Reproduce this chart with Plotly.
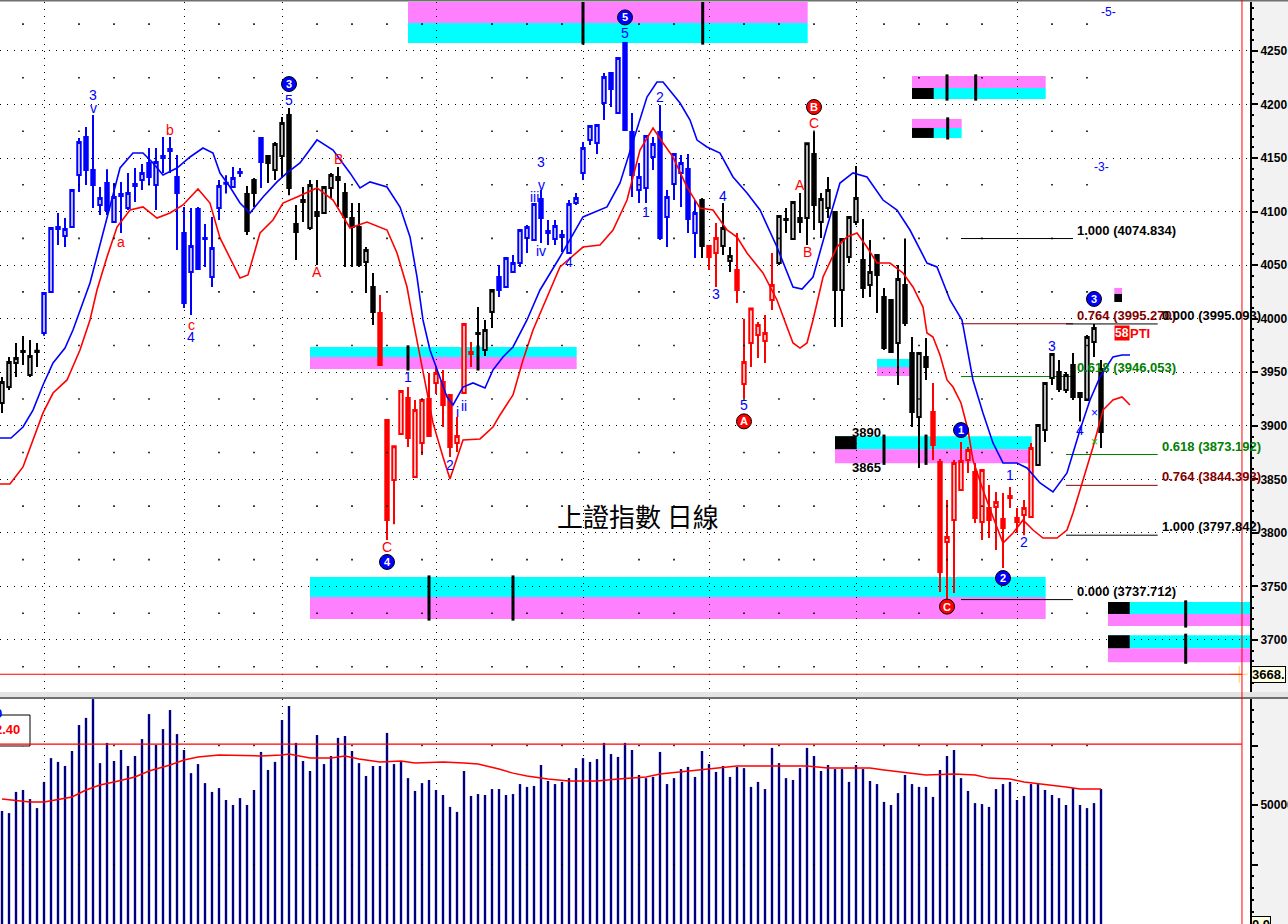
import plotly.graph_objects as go

W, H = 1288, 924

# ---------------- data ----------------
opens = [3921.3, 3936.2, 3958.6, 3969.8, 3947.4, 3970.0, 3986.6, 4025.0, 4085.6, 4077.2,
         4085.6, 4134.2, 4169.7, 4138.9, 4106.2, 4126.7, 4090.3, 4116.5, 4103.4, 4125.8,
         4129.5, 4145.4, 4124.9, 4151.9, 4158.5, 4132.3, 4080.0, 4043.5, 4102.5, 4075.4,
         4038.9, 4103.4, 4127.0, 4122.9, 4137.0, 4116.5, 4129.5, 4168.7, 4151.9, 4138.9,
         4151.9, 4190.1, 4088.4, 4110.8, 4084.7, 4099.6, 4098.7, 4122.0, 4132.3, 4117.4,
         4094.0, 4085.6, 4053.0, 4029.6, 4005.3, 3905.4, 3849.3, 3892.3, 3926.0, 3852.2,
         3884.0, 3925.0, 3940.0, 3940.9, 3928.8, 3884.0, 3930.6, 3968.9, 3986.6, 3970.8,
         4006.2, 4038.9, 4029.6, 4043.5, 4052.0, 4075.4, 4073.5, 4111.8, 4081.9, 4074.4,
         4078.2, 4061.3, 4108.0, 4136.0, 4166.8, 4164.0, 4201.4, 4229.4, 4192.0, 4257.5,
         4174.3, 4120.2, 4122.0, 4151.0, 4174.3, 4095.0, 4125.8, 4136.0, 4139.8, 4080.0,
         4110.8, 4067.9, 4061.3, 4067.9, 4053.8, 4045.4, 3939.0, 3977.4, 3984.8, 3979.2,
         4017.5, 4052.0, 4093.1, 4074.4, 4094.0, 4094.0, 4153.8, 4090.3, 4103.4, 4099.6,
         4026.8, 4057.6, 4090.3, 4054.8, 4031.5, 4059.5, 4020.2, 4017.5, 3977.4, 4031.5,
         3968.0, 3908.2, 3964.2, 3912.9, 3866.2, 3791.4, 3812.0, 3840.0, 3868.0, 3856.8,
         3810.1, 3823.2, 3824.2, 3813.0, 3834.4, 3813.9, 3816.7, 3814.8, 3863.4, 3896.1,
         3944.6, 3950.2, 3933.4, 3956.8, 3930.6, 3924.1, 3978.2, 3953.0]
highs = [3945.6, 3964.2, 3977.3, 3983.8, 3980.1, 3977.3, 4024.9, 4085.0, 4098.7, 4094.0,
         4121.0, 4168.8, 4179.0, 4190.1, 4123.0, 4139.5, 4126.7, 4127.7, 4136.0, 4140.7,
         4144.5, 4159.4, 4159.4, 4169.7, 4169.7, 4152.9, 4104.3, 4103.4, 4104.3, 4088.4,
         4095.0, 4129.5, 4134.0, 4141.6, 4140.7, 4123.9, 4131.4, 4169.0, 4152.0, 4165.0,
         4188.3, 4196.7, 4106.2, 4123.0, 4129.5, 4129.5, 4124.0, 4136.0, 4141.6, 4126.7,
         4108.0, 4108.0, 4067.0, 4042.7, 4022.1, 3906.0, 3881.5, 3933.0, 3936.2, 3924.1,
         3924.5, 3949.3, 3954.9, 3952.1, 3929.0, 3908.3, 3995.0, 3978.2, 4010.9, 3998.8,
         4027.0, 4050.1, 4057.6, 4059.5, 4083.0, 4087.5, 4107.5, 4120.2, 4092.2, 4092.2,
         4082.8, 4110.8, 4117.4, 4165.0, 4180.2, 4181.0, 4229.4, 4229.8, 4244.0, 4258.0,
         4192.0, 4145.4, 4171.0, 4169.7, 4199.5, 4120.2, 4154.0, 4152.9, 4153.8, 4110.8,
         4112.7, 4068.0, 4089.4, 4108.0, 4067.0, 4080.0, 4000.0, 4010.0, 3996.9, 4003.5,
         4061.3, 4096.0, 4103.4, 4109.0, 4117.4, 4164.0, 4174.3, 4117.4, 4132.3, 4100.0,
         4075.4, 4095.2, 4142.6, 4093.1, 4073.5, 4060.0, 4028.6, 4018.0, 4050.1, 4074.8,
         3982.9, 3968.0, 3982.0, 3940.0, 3869.0, 3830.7, 3868.0, 3884.8, 3880.2, 3865.2,
         3859.0, 3844.6, 3838.2, 3837.2, 3842.8, 3823.2, 3830.7, 3883.9, 3901.0, 3940.9,
         3968.0, 3961.4, 3950.2, 3968.0, 3931.5, 3984.8, 3995.1, 3961.4]
lows = [3911.9, 3933.4, 3945.6, 3956.8, 3945.6, 3954.9, 3984.0, 4024.0, 4068.8, 4067.0,
        4085.0, 4118.3, 4124.9, 4103.4, 4096.8, 4096.8, 4089.4, 4080.0, 4101.5, 4109.0,
        4120.2, 4124.9, 4101.5, 4136.0, 4136.0, 4064.2, 4010.0, 4003.5, 4045.4, 4048.3,
        4029.6, 4092.2, 4117.0, 4122.0, 4132.3, 4078.2, 4104.3, 4122.0, 4126.7, 4129.5,
        4132.3, 4115.3, 4054.8, 4090.3, 4082.8, 4050.1, 4098.0, 4112.7, 4104.3, 4048.3,
        4048.3, 4048.3, 4024.0, 3994.1, 3956.0, 3793.4, 3808.0, 3892.0, 3880.2, 3852.0,
        3872.7, 3889.6, 3929.7, 3898.9, 3870.8, 3875.5, 3930.0, 3954.9, 3961.4, 3965.2,
        3991.3, 4020.2, 4029.0, 4042.6, 4048.3, 4061.3, 4073.0, 4070.7, 4068.8, 4068.8,
        4062.3, 4061.0, 4106.2, 4129.5, 4162.1, 4153.8, 4185.5, 4197.6, 4191.5, 4176.0,
        4113.7, 4108.0, 4108.0, 4138.9, 4073.5, 4067.0, 4110.8, 4104.3, 4080.0, 4056.7,
        4056.7, 4045.4, 4029.6, 4059.5, 4043.5, 4014.6, 3925.6, 3954.9, 3963.3, 3958.6,
        4008.1, 4050.1, 4080.0, 4073.5, 4080.0, 4068.8, 4082.8, 4075.4, 4094.0, 3992.2,
        3992.2, 4052.0, 4087.5, 4019.3, 4020.2, 4005.3, 3970.8, 3968.0, 3938.1, 3993.2,
        3898.9, 3860.6, 3942.8, 3868.1, 3744.8, 3737.7, 3743.9, 3840.0, 3855.9, 3809.2,
        3793.4, 3795.3, 3784.0, 3767.2, 3823.2, 3799.8, 3797.8, 3813.9, 3863.0, 3884.9,
        3938.1, 3931.5, 3930.6, 3924.1, 3904.0, 3924.0, 3964.2, 3879.2]
closes = [3940.9, 3959.6, 3963.3, 3968.9, 3965.2, 3969.0, 4024.0, 4084.7, 4083.8, 4083.8,
          4120.2, 4165.0, 4138.9, 4124.9, 4112.7, 4101.5, 4113.7, 4114.6, 4117.4, 4124.0,
          4136.0, 4132.3, 4146.3, 4150.0, 4156.6, 4117.4, 4014.7, 4067.9, 4046.3, 4074.4,
          4066.0, 4124.0, 4126.0, 4131.4, 4136.0, 4081.9, 4117.4, 4146.3, 4145.4, 4163.2,
          4182.7, 4122.0, 4080.9, 4109.0, 4124.9, 4095.8, 4122.9, 4134.2, 4129.5, 4095.0,
          4085.6, 4050.1, 4064.2, 4006.2, 3956.8, 3812.0, 3881.0, 3932.5, 3888.6, 3914.7,
          3924.1, 3890.5, 3949.3, 3919.4, 3880.2, 3890.5, 3995.0, 3967.0, 3985.7, 3989.4,
          4026.8, 4026.8, 4056.7, 4052.0, 4082.8, 4085.6, 4107.1, 4094.0, 4080.0, 4086.6,
          4076.3, 4107.1, 4112.7, 4159.4, 4179.9, 4180.8, 4225.7, 4214.5, 4243.4, 4176.2,
          4134.2, 4132.3, 4170.6, 4163.2, 4075.4, 4113.7, 4153.8, 4145.4, 4093.1, 4098.7,
          4067.9, 4057.6, 4075.4, 4084.7, 4058.5, 4026.8, 3959.6, 4009.5, 3994.1, 3986.6,
          4031.5, 4095.9, 4092.2, 4109.0, 4090.3, 4163.8, 4106.2, 4111.8, 4120.2, 4026.8,
          4074.4, 4095.0, 4112.7, 4028.6, 4043.6, 4040.8, 3972.6, 3968.9, 4037.1, 3996.0,
          3912.9, 3968.0, 3954.9, 3882.0, 3763.5, 3796.1, 3865.2, 3867.1, 3877.4, 3813.9,
          3858.7, 3812.0, 3828.8, 3804.6, 3832.5, 3810.1, 3823.2, 3879.2, 3900.8, 3940.0,
          3967.0, 3934.4, 3947.4, 3926.9, 3926.9, 3983.0, 3991.3, 3894.2]
volumes = [47500, 46600, 55500, 56300, 52500, 48700, 59700, 69700, 68100, 66400,
           72700, 83600, 86600, 94500, 67600, 76100, 68500, 73100, 66400, 70600,
           77700, 88200, 75200, 81900, 89900, 79800, 73100, 63400, 67200, 59200,
           55500, 57100, 52100, 50000, 52900, 50000, 56300, 72300, 64700, 68100,
           85700, 91600, 76100, 68500, 64300, 79400, 67200, 70600, 78200, 79000,
           72700, 67600, 62200, 66400, 66400, 80300, 67200, 68500, 61300, 55900,
           59200, 60500, 56300, 54200, 49200, 47100, 64300, 53800, 54600, 54200,
           56700, 56700, 54200, 54600, 58800, 57600, 58000, 66800, 60100, 58800,
           59700, 61300, 65500, 69700, 68100, 69300, 76100, 71400, 70200, 76100,
           73100, 62600, 61300, 61800, 72300, 58800, 61300, 65100, 66000, 61800,
           72700, 67200, 63900, 66400, 61800, 66000, 65500, 57600, 59700, 56700,
           74000, 67600, 61300, 60500, 65500, 74000, 70600, 64300, 66800, 65100,
           65100, 59700, 66800, 65100, 60100, 58800, 51300, 50000, 55000, 62600,
           58800, 57600, 57600, 53400, 64700, 70600, 73100, 61300, 55900, 50800,
           50400, 49200, 56700, 58800, 59700, 52100, 53800, 58800, 58800, 56300,
           54200, 52900, 50000, 57100, 50000, 48700, 50800, 56700]

# wave-colour segments (first bar, last bar, colour key)
color_segments = [(0, 5, 'k'), (6, 34, 'b'), (35, 36, 'k'), (37, 37, 'b'), (38, 53, 'k'),
                  (54, 67, 'r'), (68, 70, 'k'), (71, 99, 'b'), (100, 100, 'k'), (101, 102, 'r'),
                  (103, 104, 'k'), (105, 110, 'r'), (111, 132, 'k'), (133, 147, 'r'), (148, 157, 'k')]

# moving averages (bar index, value)
ma_fast_x = [-0.29, 1.29, 3.0, 4.43, 5.86, 7.29, 9.0, 10.14, 12.57, 14.43, 15.86, 16.86, 18.71, 20.14,
             21.57, 23.0, 25.0, 26.86, 28.71, 30.14, 31.14, 32.57, 34.0, 35.43, 37.29, 39.29, 40.71,
             42.57, 45.0, 47.29, 49.71, 51.14, 52.57, 55.0, 56.86, 58.29, 59.29, 60.14, 61.14, 62.14,
             63.57, 64.43, 65.86, 67.29, 69.0, 70.14, 71.57, 73.0, 75.0, 76.86, 79.71, 83.0, 84.43,
             86.43, 88.29, 90.14, 92.14, 93.57, 94.43, 96.86, 98.29, 99.29, 100.71, 102.57, 104.43,
             106.43, 108.29, 110.71, 113.0, 114.29, 115.86, 117.86, 119.71, 121.57, 123.57, 125.86,
             127.86, 129.71, 132.14, 133.57, 135.43, 137.14, 137.86, 138.71, 140.14, 141.57, 143.0,
             145.0, 146.43, 148.29, 150.14, 152.14, 154.0, 155.43, 156.86, 158.71, 160.0, 161.14]
ma_fast_y = [3888.6, 3888.6, 3898.9, 3914.7, 3938.1, 3958.6, 3972.6, 3989.4, 4033.3, 4080.0, 4113.6,
             4140.7, 4154.7, 4154.7, 4145.4, 4134.2, 4140.7, 4151.0, 4159.4, 4154.7, 4136.0, 4123.0,
             4108.0, 4098.7, 4113.6, 4127.7, 4136.1, 4145.4, 4166.9, 4157.5, 4136.1, 4122.1, 4127.7,
             4123.0, 4104.3, 4076.3, 4038.9, 3998.8, 3970.8, 3952.1, 3926.9, 3919.4, 3936.2, 3940.0,
             3935.3, 3952.1, 3964.2, 3973.6, 3998.8, 4026.8, 4057.6, 4095.0, 4098.7, 4104.3, 4126.7,
             4165.0, 4207.0, 4221.0, 4221.0, 4201.4, 4185.5, 4166.8, 4160.3, 4154.7, 4132.3, 4117.4,
             4101.5, 4066.9, 4029.6, 4027.7, 4038.9, 4085.6, 4126.7, 4136.1, 4132.3, 4110.8, 4101.5,
             4082.8, 4052.0, 4048.3, 4017.5, 3998.8, 3973.6, 3942.8, 3912.0, 3884.0, 3865.3, 3865.3,
             3860.6, 3846.6, 3838.2, 3856.0, 3896.1, 3924.1, 3945.6, 3964.3, 3966.1, 3966.1]
ma_slow_x = [-0.29, 1.14, 3.0, 4.43, 5.86, 7.29, 9.29, 11.14, 12.57, 13.57, 15.0, 16.43, 18.29, 20.14,
             22.14, 24.0, 25.86, 28.0, 29.71, 31.14, 33.0, 34.0, 35.14, 36.86, 38.71, 40.14, 42.14,
             45.0, 47.29, 49.71, 52.14, 55.0, 56.43, 57.86, 58.71, 60.14, 61.57, 63.0, 64.0, 65.86,
             68.29, 70.14, 71.14, 73.0, 74.43, 75.86, 79.71, 83.0, 85.43, 87.29, 89.29, 91.14, 93.0,
             94.43, 95.86, 97.86, 99.71, 101.57, 103.57, 105.0, 106.43, 108.71, 110.71, 112.14, 113.0,
             114.0, 115.0, 115.86, 117.29, 119.29, 120.71, 122.14, 123.57, 125.0, 126.86, 128.71,
             130.14, 131.57, 132.14, 133.0, 134.0, 135.0, 135.86, 137.0, 138.0, 138.71, 140.14, 141.57,
             143.0, 144.43, 145.86, 147.29, 148.71, 150.71, 152.14, 153.0, 154.43, 155.86, 157.29,
             158.71, 160.0, 161.14]
ma_slow_y = [3845.7, 3845.7, 3861.6, 3886.8, 3912.0, 3930.6, 3942.8, 3970.8, 3998.8, 4026.8, 4057.6,
             4085.6, 4101.5, 4104.3, 4094.0, 4098.7, 4106.2, 4121.1, 4108.0, 4075.4, 4052.0, 4038.0,
             4040.8, 4080.0, 4092.2, 4108.0, 4113.6, 4122.1, 4110.8, 4084.7, 4090.3, 4082.8, 4061.3,
             4029.6, 3998.8, 3952.1, 3902.7, 3870.8, 3850.3, 3886.7, 3887.7, 3898.9, 3910.1, 3928.8,
             3961.4, 3989.5, 4048.3, 4066.9, 4068.8, 4082.8, 4110.8, 4157.5, 4178.0, 4164.0, 4150.9,
             4122.9, 4103.3, 4101.5, 4082.8, 4076.3, 4061.3, 4042.7, 4017.5, 3992.2, 3977.3, 3972.6,
             3977.3, 3998.8, 4038.9, 4066.9, 4076.3, 4080.0, 4066.9, 4052.0, 4052.0, 4042.7, 4029.6,
             4010.9, 3986.6, 3982.9, 3966.1, 3942.8, 3936.2, 3921.3, 3896.1, 3868.0, 3840.0, 3814.8,
             3790.5, 3799.9, 3812.0, 3802.7, 3795.2, 3795.2, 3802.7, 3818.5, 3849.3, 3880.2, 3914.7,
             3924.1, 3926.9, 3919.4]
vol_ma_x = [0, 4, 6, 10, 12, 14, 16, 19, 21, 24, 26, 28, 31, 37, 40, 41, 44, 47, 49, 51, 54, 57, 59,
            63, 66, 68, 71, 73, 75, 78, 81, 85, 88, 92, 94, 97, 100, 103, 105, 110, 115, 118, 124,
            126, 128, 130, 132, 136, 139, 141, 144, 146, 149, 152, 154, 157]
vol_ma_y = [52500, 51300, 51300, 53400, 56300, 58400, 59700, 61800, 64300, 66800, 68900, 70200, 71000,
            70600, 71000, 71400, 69700, 69700, 70600, 69300, 68100, 68500, 67600, 68100, 67600, 67200,
            65100, 63400, 62200, 60900, 60100, 60100, 60900, 61800, 63000, 63900, 65100, 66000, 66400,
            66400, 66400, 65500, 65500, 64700, 63900, 63400, 62600, 63000, 62600, 61300, 60900, 59700,
            58800, 57600, 56700, 56700]

month_starts = [6, 26, 40, 62, 83, 101, 122, 145]
week_marks = [3, 11, 16, 21, 31, 36, 45, 50, 55, 60, 70, 75, 80, 91, 96, 106, 111, 116, 126, 131,
              135, 140, 150, 155]
price_minor_levels = [3675, 3725, 3775, 3825, 3875, 3925, 3975, 4025, 4075, 4125, 4175, 4225, 4275]

# Fibonacci studies: (ratio, price, colour key)
fib_set_a = [(1.000, 4074.834, 'k'), (0.764, 3995.270, 'd'), (0.618, 3946.053, 'g'), (0.000, 3737.712, 'k')]
fib_set_b = [(0.000, 3995.093, 'k'), (0.618, 3873.192, 'g'), (0.764, 3844.393, 'd'), (1.000, 3797.842, 'k')]
fib_span_a = (137, 153)
fib_span_b = (152, 165.1)

# time/price bands: x-range (bars), cyan price range, pink price range, black block, tick bars
bands = [
    dict(x=(58, 115.1), cyan=(4257.4, 4276.1), pink=(4276.1, 4300.0), block=None, ticks=[83, 100.1]),
    dict(x=(130, 149.1), cyan=(4205.1, 4215.4), pink=(4215.4, 4226.6), block=(130, 133.1), ticks=[135, 139.1]),
    dict(x=(130, 137.1), cyan=(4168.8, 4178.1), pink=(4178.1, 4186.5), block=(130, 133.1), ticks=[135.1]),
    dict(x=(44, 82.1), cyan=(3964.3, 3973.6), pink=(3953.1, 3964.3), block=None, ticks=[58, 68]),
    dict(x=(119, 147.1), cyan=(3878.1, 3890.3), pink=(3865.0, 3878.1), block=(119, 122.1), ticks=[126, 132]),
    dict(x=(125, 130.1), cyan=(3955.0, 3962.4), pink=(3946.5, 3955.0), block=None, ticks=[]),
    dict(x=(44, 149.1), cyan=(3740.1, 3758.8), pink=(3719.6, 3740.1), block=None, ticks=[61, 73]),
    dict(x=(158, 178.3), cyan=(3724.3, 3735.5), pink=(3713.1, 3724.3), block=(158, 161.1), ticks=[169.1]),
    dict(x=(158, 178.3), cyan=(3692.3, 3704.4), pink=(3679.3, 3692.3), block=(158, 161.1), ticks=[169.1]),
]

# wave labels: (bar, text, colour key, 'H'/'L', pixel offset of centre, circled)
wave_labels = [
    (13, "v", 'b', 'H', 7, False), (13, "3", 'b', 'H', 20, False),
    (17, "a", 'r', 'L', 9, False), (24, "b", 'r', 'H', 7, False),
    (27, "c", 'r', 'L', 10, False), (27, "4", 'b', 'L', 22, False),
    (41, "5", 'b', 'H', 8, False), (41, "3", 'b', 'H', 24, True),
    (45, "A", 'r', 'L', 7, False), (48, "B", 'r', 'H', 8, False),
    (58, "1", 'b', 'H', 10, False), (55, "C", 'r', 'L', 7, False), (55, "4", 'b', 'L', 22, True),
    (64, "2", 'b', 'L', 8, False), (65, "i", 'b', 'H', 5, False), (66, "ii", 'b', 'L', 12, False),
    (76, "iii", 'b', 'H', 7, False), (77, "v", 'b', 'H', 5, False), (77, "3", 'b', 'H', 28, False),
    (77, "iv", 'b', 'L', 8, False), (81, "4", 'b', 'L', 9, False),
    (89, "5", 'b', 'H', 9, False), (89, "5", 'b', 'H', 25, True),
    (92, "1", 'b', 'L', 9, False), (94, "2", 'b', 'H', 8, False),
    (102, "3", 'b', 'L', 7, False), (103, "4", 'b', 'H', 7, False),
    (106, "5", 'b', 'L', 7, False), (106, "A", 'r', 'L', 23, True),
    (114, "A", 'r', 'H', 8, False), (115, "B", 'r', 'L', 7, False),
    (116, "C", 'r', 'H', 9, False), (116, "B", 'r', 'H', 25, True),
    (137, "1", 'b', 'H', 12, True), (135, "C", 'r', 'L', 7, True),
    (144, "1", 'b', 'H', 12, False), (143, "2", 'b', 'L', 10, True),
    (146, "2", 'b', 'L', 7, False), (150, "3", 'b', 'H', 7, False),
    (154, "4", 'b', 'L', 8, False), (156, "3", 'b', 'H', 25, True),
]

cursor_price = 3668
cursor_bar = 177.14
vol_cursor = 75600

# ---------------- styling ----------------
COL = {'k': '#000000', 'b': '#0000FF', 'r': '#FF0000', 'g': '#008000', 'd': '#800000'}
CYAN, PINK = '#00FFFF', '#FF80FF'
FONT = "Liberation Sans, Arial, sans-serif"
X_RANGE = [-2 / 7, 1248 / 7]
Y_RANGE = [3650.5, 4295.7]
V_RANGE = [0, 94538]
XD = 1250 / W


def py(p):
    return 1 - p / H


fig = go.Figure()

# candles, one trace per wave colour
for key in ['k', 'b', 'r']:
    idx = [i for (a, b, c) in color_segments if c == key for i in range(a, b + 1)]
    fig.add_trace(go.Candlestick(
        x=idx, open=[opens[i] for i in idx], high=[highs[i] for i in idx],
        low=[lows[i] for i in idx], close=[closes[i] for i in idx],
        increasing=dict(line=dict(color=COL[key], width=2), fillcolor='white'),
        decreasing=dict(line=dict(color=COL[key], width=2), fillcolor=COL[key]),
        whiskerwidth=0, hoverinfo='skip', showlegend=False, xaxis='x', yaxis='y'))

fig.add_trace(go.Scatter(x=ma_fast_x, y=ma_fast_y, mode='lines', line=dict(color='#0000FF', width=1.6),
                         hoverinfo='skip', showlegend=False))
fig.add_trace(go.Scatter(x=ma_slow_x, y=ma_slow_y, mode='lines', line=dict(color='#FF0000', width=1.6),
                         hoverinfo='skip', showlegend=False))

# sparse grid dots (weekly x price minor levels)
gx = [w for lv in price_minor_levels for w in week_marks]
gy = [lv for lv in price_minor_levels for w in week_marks]
fig.add_trace(go.Scatter(x=gx, y=gy, mode='markers', marker=dict(symbol='square', size=1.6, color='black'),
                         hoverinfo='skip', showlegend=False))

# volume
fig.add_trace(go.Bar(x=list(range(len(volumes))), y=volumes, width=0.34, marker=dict(color='#000080', line=dict(width=0)),
                     hoverinfo='skip', showlegend=False, xaxis='x2', yaxis='y2'))
fig.add_trace(go.Scatter(x=vol_ma_x, y=vol_ma_y, mode='lines', line=dict(color='#FF0000', width=1.5),
                         hoverinfo='skip', showlegend=False, xaxis='x2', yaxis='y2'))
vgx = [w for lv in (25000, 75000) for w in week_marks]
vgy = [lv for lv in (25000, 75000) for w in week_marks]
fig.add_trace(go.Scatter(x=vgx, y=vgy, mode='markers', marker=dict(symbol='square', size=1.6, color='black'),
                         hoverinfo='skip', showlegend=False, xaxis='x2', yaxis='y2'))

# cursor cross
fig.add_trace(go.Scatter(x=[cursor_bar - 0.4], y=[cursor_price], mode='markers',
                         marker=dict(symbol='cross-thin-open', size=12, line=dict(color='black', width=1)),
                         hoverinfo='skip', showlegend=False))

shapes = []
annotations = []

# bands
for bd in bands:
    x0, x1 = bd['x']
    shapes.append(dict(type='rect', xref='x', yref='y', x0=x0, x1=x1, y0=bd['cyan'][0], y1=bd['cyan'][1],
                       fillcolor=CYAN, line=dict(width=0), layer='below'))
    shapes.append(dict(type='rect', xref='x', yref='y', x0=x0, x1=x1, y0=bd['pink'][0], y1=bd['pink'][1],
                       fillcolor=PINK, line=dict(width=0), layer='below'))
    if bd['block']:
        shapes.append(dict(type='rect', xref='x', yref='y', x0=bd['block'][0], x1=bd['block'][1],
                           y0=bd['cyan'][0], y1=bd['cyan'][1], fillcolor='black', line=dict(width=0), layer='below'))
    lo = min(bd['cyan'][0], bd['pink'][0]) - 1.5
    hi = max(bd['cyan'][1], bd['pink'][1]) + 1.5
    for t in bd['ticks']:
        shapes.append(dict(type='line', xref='x', yref='y', x0=t, x1=t, y0=lo, y1=hi,
                           line=dict(color='black', width=3), layer='below'))

# little pink/black marker near last bar
shapes.append(dict(type='rect', xref='x', yref='y', x0=158.9, x1=160.0, y0=4023.1, y1=4028.7,
                   fillcolor=PINK, line=dict(width=0), layer='below'))
shapes.append(dict(type='rect', xref='x', yref='y', x0=158.9, x1=160.0, y0=4015.6, y1=4023.1,
                   fillcolor='black', line=dict(width=0), layer='below'))

# fibonacci lines and labels
for (fset, span) in ((fib_set_a, fib_span_a), (fib_set_b, fib_span_b)):
    for ratio, price, ck in fset:
        shapes.append(dict(type='line', xref='x', yref='y', x0=span[0], x1=span[1], y0=price, y1=price,
                           line=dict(color=COL[ck], width=1), layer='below'))
        annotations.append(dict(x=span[1] + 0.3, y=price, xref='x', yref='y', text=f"{ratio:.3f} ({price:.3f})",
                                showarrow=False, xanchor='left', yanchor='bottom', yshift=-1,
                                font=dict(family=FONT, size=13, color=COL[ck], weight='bold')))

# wave labels
for (i, txt, ck, where, dy, circ) in wave_labels:
    base = highs[i] if where == 'H' else lows[i]
    sh = dy if where == 'H' else -dy
    if circ:
        shapes.append(dict(type='circle', xref='x', yref='y', xsizemode='pixel', ysizemode='pixel',
                           xanchor=i, yanchor=base, x0=-7.5, x1=7.5, y0=sh - 7.5, y1=sh + 7.5,
                           fillcolor=COL[ck], line=dict(color='black', width=1), layer='above'))
        annotations.append(dict(x=i, y=base, xref='x', yref='y', text=txt, showarrow=False, yshift=sh,
                                xanchor='center', yanchor='middle',
                                font=dict(family=FONT, size=11, color='white', weight='bold')))
    else:
        annotations.append(dict(x=i, y=base, xref='x', yref='y', text=txt, showarrow=False, yshift=sh,
                                xanchor='center', yanchor='middle',
                                font=dict(family=FONT, size=14, color=COL[ck])))

# free texts
annotations += [
    dict(x=158, y=4286.4, xref='x', yref='y', text='-5-', showarrow=False,
         font=dict(family=FONT, size=12, color='#0000FF')),
    dict(x=157.1, y=4141.7, xref='x', yref='y', text='-3-', showarrow=False,
         font=dict(family=FONT, size=12, color='#0000FF')),
    dict(x=156, y=3911.6, xref='x', yref='y', text='×', showarrow=False,
         font=dict(family=FONT, size=12, color='#0000FF')),
    dict(x=156, y=3884.8, xref='x', yref='y', text='×', showarrow=False,
         font=dict(family=FONT, size=12, color='#00C000')),
    dict(x=160, y=3986.6, xref='x', yref='y', text='58', showarrow=False, bgcolor='#FF0000', borderpad=0,
         font=dict(family=FONT, size=12, color='white', weight='bold')),
    dict(x=160.9, y=3986.6, xref='x', yref='y', text='PTI', showarrow=False, xanchor='left',
         font=dict(family=FONT, size=13, color='#FF0000', weight='bold')),
    dict(x=125.9, y=3890, xref='x', yref='y', text='3890', showarrow=False, xanchor='right', yanchor='bottom',
         yshift=-5, font=dict(family=FONT, size=13, color='black', weight='bold')),
    dict(x=125.9, y=3865, xref='x', yref='y', text='3865', showarrow=False, xanchor='right', yanchor='top',
         yshift=5, font=dict(family=FONT, size=13, color='black', weight='bold')),
    dict(x=638 / W, y=py(515), xref='paper', yref='paper', text='上證指數 日線', showarrow=False,
         font=dict(family="Noto Sans CJK TC, sans-serif", size=26, color='black')),
    dict(x=1251 / W, y=cursor_price, xref='paper', yref='y', text='3668.', showarrow=False, xanchor='left',
         yanchor='middle', bgcolor='#FFFFE1', bordercolor='black', borderwidth=1, borderpad=0,
         font=dict(family=FONT, size=13, color='black', weight='bold')),
    dict(x=1251 / W, y=py(916), xref='paper', yref='paper', text='0.0', showarrow=False, xanchor='left',
         yanchor='top', bgcolor='#FFFFE1', bordercolor='black', borderwidth=1, borderpad=0,
         font=dict(family=FONT, size=13, color='black', weight='bold')),
    dict(x=4 / W, y=py(723), xref='paper', yref='paper', text='0', showarrow=False, xanchor='right',
         font=dict(family=FONT, size=13, color='#0000FF', weight='bold')),
    dict(x=22 / W, y=py(739), xref='paper', yref='paper', text='2.40', showarrow=False, xanchor='right',
         font=dict(family=FONT, size=13, color='#FF0000', weight='bold')),
]

# frame pieces: right axis panel, separators, legend box, cursor lines
shapes += [
    dict(type='rect', xref='paper', yref='paper', x0=XD, x1=1.0, y0=0, y1=1, fillcolor='#F2F2F2',
         line=dict(width=0), layer='below'),
    dict(type='rect', xref='paper', yref='paper', x0=0, x1=1, y0=py(697), y1=py(692), fillcolor='#E4E4E4',
         line=dict(width=0), layer='above'),
    dict(type='rect', xref='paper', yref='paper', x0=0, x1=1, y0=py(699), y1=py(697), fillcolor='#707070',
         line=dict(width=0), layer='above'),
    dict(type='rect', xref='paper', yref='paper', x0=0, x1=1, y0=py(1.5), y1=1, fillcolor='#707070',
         line=dict(width=0), layer='above'),
    dict(type='rect', xref='paper', yref='paper', x0=-0.01, x1=30 / W, y0=py(746), y1=py(715),
         fillcolor='white', line=dict(color='black', width=1), layer='above'),
    dict(type='line', xref='x', yref='paper', x0=cursor_bar, x1=cursor_bar, y0=0, y1=1,
         line=dict(color='#FF0000', width=1), layer='above'),
    dict(type='line', xref='x', yref='y', x0=X_RANGE[0], x1=cursor_bar, y0=cursor_price, y1=cursor_price,
         line=dict(color='#FF0000', width=1), layer='above'),
    dict(type='line', xref='x2', yref='y2', x0=X_RANGE[0], x1=cursor_bar, y0=vol_cursor, y1=vol_cursor,
         line=dict(color='#FF0000', width=1.2), layer='above'),
]

axis_font = dict(family=FONT, size=12, color='black', weight='bold')
xcommon = dict(range=X_RANGE, showticklabels=False, ticks='', tickmode='array', tickvals=month_starts,
               showgrid=True, gridcolor='black', gridwidth=1, griddash='1px,6px', zeroline=False,
               showline=False, domain=[0, XD], rangeslider=dict(visible=False), fixedrange=True,
               automargin=False)

fig.update_layout(
    width=W, height=H, margin=dict(l=0, r=0, t=0, b=0, pad=0), autosize=False,
    paper_bgcolor='white', plot_bgcolor='white', hovermode=False, showlegend=False,
    xaxis=dict(anchor='y', **xcommon),
    xaxis2=dict(anchor='y2', matches='x', **xcommon),
    yaxis=dict(domain=[py(693), py(2)], range=Y_RANGE, side='right', anchor='x', automargin=False,
               tickmode='linear', tick0=3700, dtick=50, ticks='outside', ticklen=6, tickwidth=1.5,
               tickcolor='black', tickfont=axis_font, showline=True, linecolor='black', linewidth=2,
               showgrid=True, gridcolor='black', gridwidth=1, griddash='1px,6px', zeroline=False,
               minor=dict(ticks='outside', ticklen=2, dtick=10, tickcolor='black', showgrid=False),
               fixedrange=True),
    yaxis2=dict(domain=[0, py(699)], range=V_RANGE, side='right', anchor='x2', automargin=False,
                tickmode='array', tickvals=[25000, 50000, 75000], ticktext=['', '50000', ''],
                ticks='outside', ticklen=6, tickwidth=1.5, tickcolor='black', tickfont=axis_font,
                showline=True, linecolor='black', linewidth=2, showgrid=False, zeroline=False,
                minor=dict(ticks='outside', ticklen=2, tickmode='linear', tick0=0, dtick=5000,
                           tickcolor='black', showgrid=False),
                fixedrange=True),
    boxgap=0.3, boxgroupgap=0.3,
    shapes=shapes, annotations=annotations,
)

fig.write_html("out.html", config={'displayModeBar': False, 'responsive': False},
               post_script="document.body.style.margin='0';document.body.style.padding='0';"
                           "document.documentElement.style.overflow='hidden';")
